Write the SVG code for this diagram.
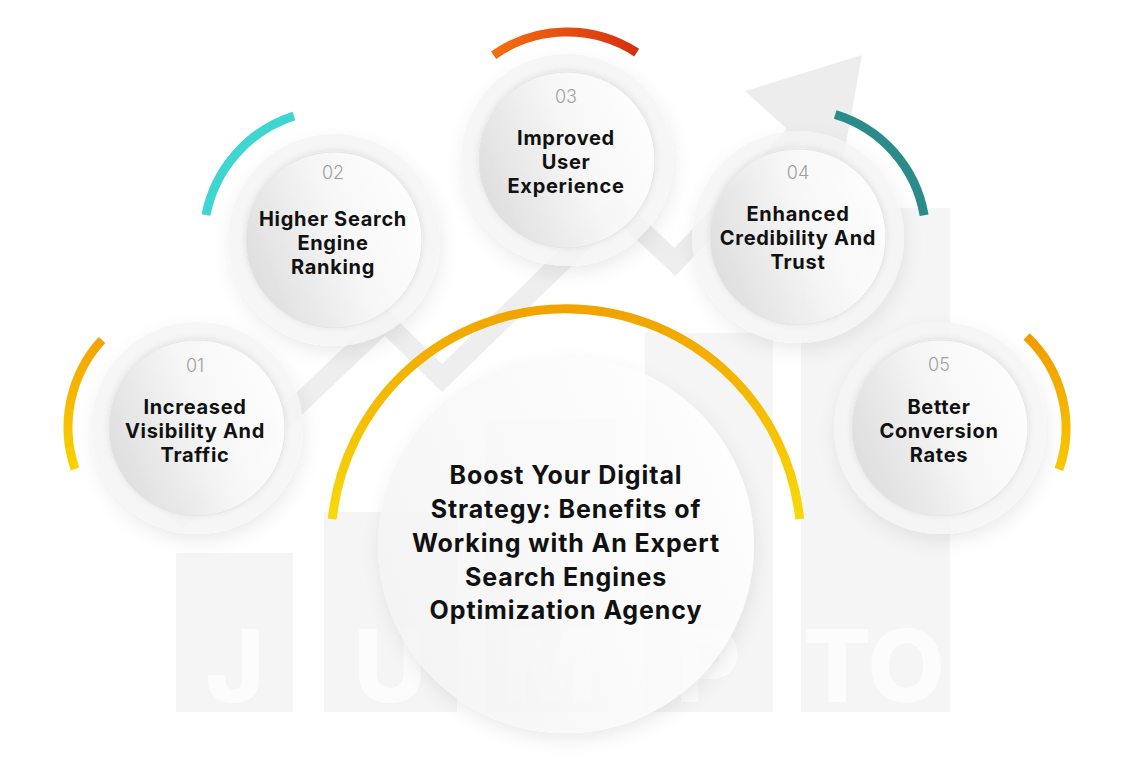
<svg xmlns="http://www.w3.org/2000/svg" width="1128" height="768" viewBox="0 0 1128 768">
<defs>
<style>
.bar{fill:#f5f5f5}
.wm{font-family:Inter,"Liberation Sans",sans-serif;font-weight:800;font-size:100px;fill:#fcfcfc;text-anchor:middle}
.ring{fill:#f4f4f4;fill-opacity:0.86;filter:url(#sh)}
.disc{fill:url(#dg);fill-opacity:0.86;stroke:#e4e4e4;stroke-width:1;filter:url(#sh2)}
.arc{fill:none;stroke-width:9}
.num{font-family:Inter,"Open Sans",sans-serif;font-weight:300;font-size:18px;fill:#a0a0a0;text-anchor:middle}
.ttl{font-family:Inter,"Liberation Sans",sans-serif;font-weight:700;font-size:20px;letter-spacing:0.7px;fill:#111;text-anchor:middle}
.big{font-family:Inter,"Liberation Sans",sans-serif;font-weight:700;font-size:25px;letter-spacing:0.9px;fill:#111;text-anchor:middle}
</style>
<linearGradient id="dg" x1="0" y1="0.7" x2="1" y2="0.3">
<stop offset="0" stop-color="#d9d9d9"/><stop offset="0.55" stop-color="#f6f6f6"/><stop offset="1" stop-color="#ffffff"/>
</linearGradient>
<linearGradient id="cg" x1="0" y1="0.7" x2="1" y2="0.3">
<stop offset="0" stop-color="#f3f3f3"/><stop offset="1" stop-color="#ffffff"/>
</linearGradient>
<linearGradient id="g01" x1="0" y1="0" x2="0" y2="1"><stop offset="0" stop-color="#f3a300"/><stop offset="1" stop-color="#f8d300"/></linearGradient>
<linearGradient id="g03" x1="0" y1="0" x2="1" y2="0"><stop offset="0" stop-color="#f46e12"/><stop offset="1" stop-color="#d6300f"/></linearGradient>
<linearGradient id="g05" x1="0" y1="0" x2="0" y2="1"><stop offset="0" stop-color="#f09c00"/><stop offset="1" stop-color="#f7c900"/></linearGradient>
<linearGradient id="gc" x1="0" y1="0" x2="0" y2="1"><stop offset="0" stop-color="#f1a300"/><stop offset="1" stop-color="#f8d908"/></linearGradient>
<filter id="sh" x="-30%" y="-30%" width="160%" height="160%">
<feGaussianBlur in="SourceAlpha" stdDeviation="9"/>
<feOffset dx="2" dy="7" result="b"/>
<feFlood flood-color="#000" flood-opacity="0.09"/>
<feComposite in2="b" operator="in" result="s"/>
<feComposite in="s" in2="SourceAlpha" operator="out" result="so"/>
<feMerge><feMergeNode in="so"/><feMergeNode in="SourceGraphic"/></feMerge>
</filter>
<filter id="sh2" x="-20%" y="-20%" width="140%" height="140%">
<feGaussianBlur in="SourceAlpha" stdDeviation="3"/>
<feOffset dx="0" dy="-1" result="b"/>
<feFlood flood-color="#000" flood-opacity="0.10"/>
<feComposite in2="b" operator="in" result="s"/>
<feComposite in="s" in2="SourceAlpha" operator="out" result="so"/>
<feMerge><feMergeNode in="so"/><feMergeNode in="SourceGraphic"/></feMerge>
</filter>
</defs>
<rect width="1128" height="768" fill="#ffffff"/>
<g id="watermark">
<rect class="bar" x="176" y="553" width="117" height="159"/>
<rect class="bar" x="324" y="512" width="133" height="200"/>
<rect class="bar" x="485" y="418" width="131" height="294"/>
<rect class="bar" x="645" y="333" width="128" height="379"/>
<rect class="bar" x="801" y="208" width="149" height="504"/>
<text class="wm" x="235" y="702">J</text>
<text class="wm" x="390" y="702">U</text>
<text class="wm" x="550" y="702">M</text>
<text class="wm" x="708" y="702">P</text>
<text class="wm" x="874" y="702">TO</text>
</g>
<g id="trend-arrow" opacity="0.55">
<polyline points="175,522 385,322 442,378 617,208 675,262 800,130" fill="none" stroke="#e0e0e0" stroke-width="20" stroke-linejoin="miter"/>
<polygon points="745,91 862,55 840,177" fill="#e0e0e0"/>
</g>
<g id="connectors"/>
<g id="node-center">
<circle cx="566" cy="545" r="188" fill="url(#cg)" fill-opacity="0.86" filter="url(#sh)"/>
<path class="arc" d="M 332.3 519 A 235 235 0 0 1 799.7 519" stroke="url(#gc)" stroke-width="11"/>
<text class="big"><tspan x="566" y="484">Boost Your Digital</tspan><tspan x="566" y="518">Strategy: Benefits of</tspan><tspan x="566" y="552">Working with An Expert</tspan><tspan x="566" y="586">Search Engines</tspan><tspan x="566" y="619">Optimization Agency</tspan></text>
</g>
<g id="node-01">
<circle class="ring" cx="197" cy="428" r="106"/>
<circle class="disc" cx="197" cy="428" r="88"/>
<path class="arc" d="M 102 340 A 129 129 0 0 0 75 469" stroke="url(#g01)"/>
<text class="num" x="195" y="372">01</text>
<text class="ttl"><tspan x="195" y="414">Increased</tspan><tspan x="195" y="438">Visibility And</tspan><tspan x="195" y="462">Traffic</tspan></text>
</g>
<g id="node-02">
<circle class="ring" cx="334" cy="240" r="106"/>
<circle class="disc" cx="334" cy="240" r="88"/>
<path class="arc" d="M 294 116 A 130 130 0 0 0 206 215" stroke="#3fd5d0"/>
<text class="num" x="333" y="179">02</text>
<text class="ttl"><tspan x="333" y="226">Higher Search</tspan><tspan x="333" y="250">Engine</tspan><tspan x="333" y="274">Ranking</tspan></text>
</g>
<g id="node-03">
<circle class="ring" cx="567" cy="160" r="106"/>
<circle class="disc" cx="567" cy="160" r="88"/>
<path class="arc" d="M 493.6 55.2 A 128 128 0 0 1 636.7 52.6" stroke="url(#g03)"/>
<text class="num" x="566" y="103">03</text>
<text class="ttl"><tspan x="566" y="145">Improved</tspan><tspan x="566" y="169">User</tspan><tspan x="566" y="193">Experience</tspan></text>
</g>
<g id="node-04">
<circle class="ring" cx="798" cy="237" r="106"/>
<circle class="disc" cx="798" cy="237" r="88"/>
<path class="arc" d="M 835.2 114.5 A 128 128 0 0 1 924.1 215.2" stroke="#2b8b8b"/>
<text class="num" x="798" y="179">04</text>
<text class="ttl"><tspan x="798" y="221">Enhanced</tspan><tspan x="798" y="245">Credibility And</tspan><tspan x="798" y="269">Trust</tspan></text>
</g>
<g id="node-05">
<circle class="ring" cx="940" cy="428" r="106"/>
<circle class="disc" cx="940" cy="428" r="88"/>
<path class="arc" d="M 1026.6 336.4 A 126 126 0 0 1 1058.9 469.6" stroke="url(#g05)"/>
<text class="num" x="939" y="371">05</text>
<text class="ttl"><tspan x="939" y="414">Better</tspan><tspan x="939" y="438">Conversion</tspan><tspan x="939" y="462">Rates</tspan></text>
</g>
</svg>
